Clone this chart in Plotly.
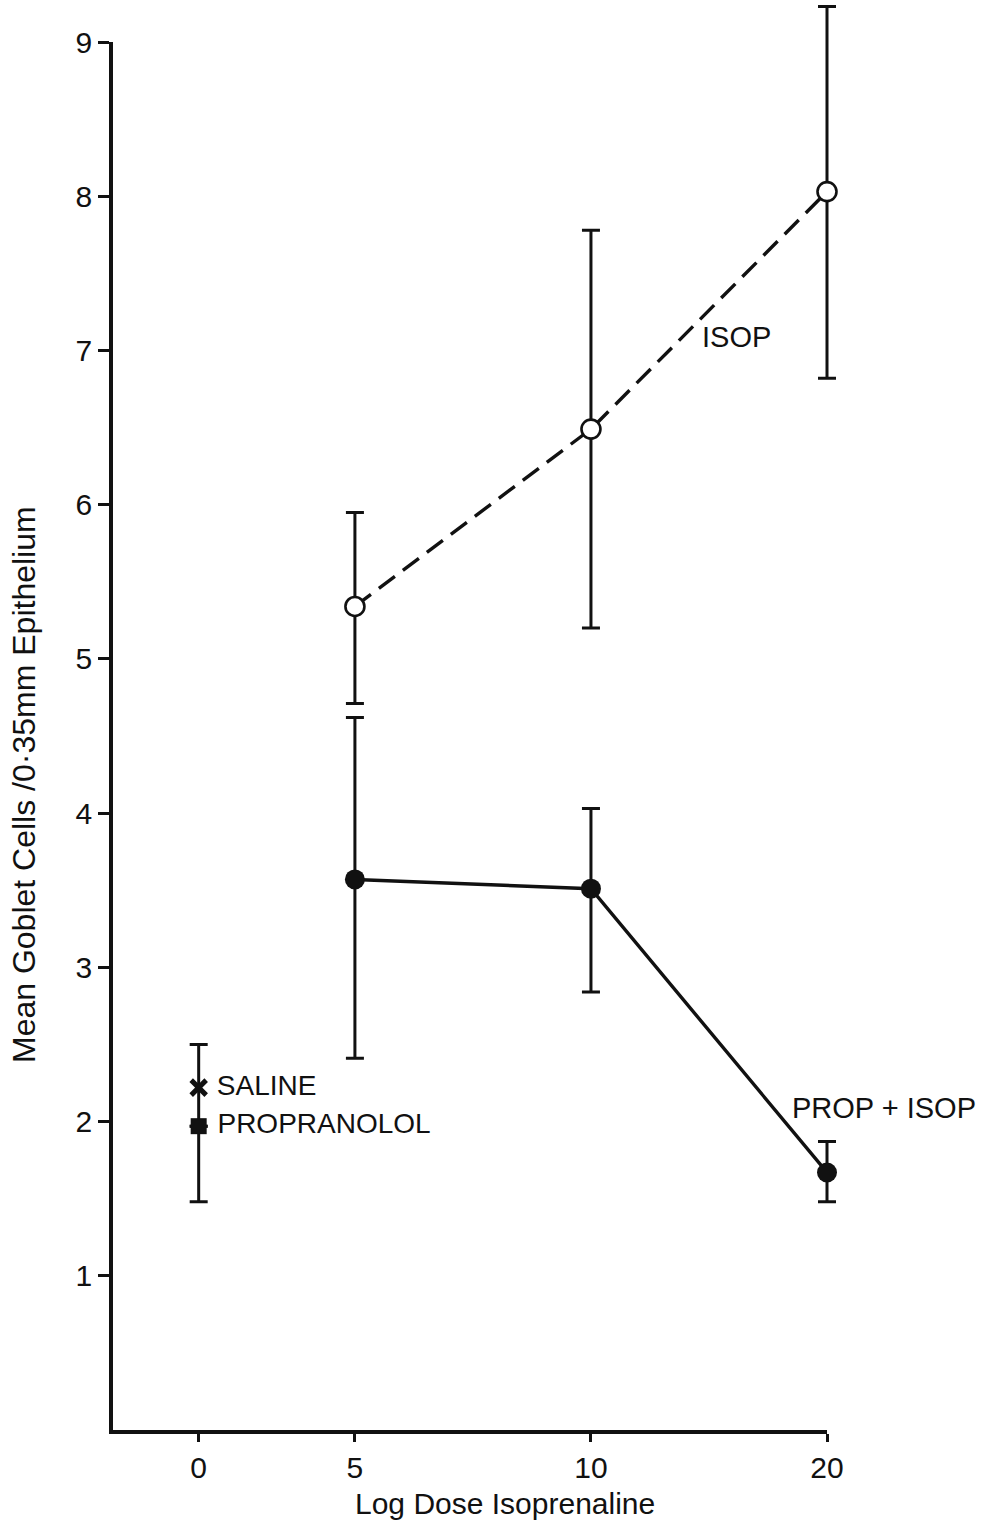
import numpy as np
import plotly.graph_objects as go

# Dose levels (µg) and their positions on the log-dose axis
dose_labels = ["0", "5", "10", "20"]
dose_values = [5, 10, 20]
zero_pos = 1.66  # where the control (0) group is drawn on the axis

# Isoprenaline alone (mean, lower and upper bound of error bar)
isop_mean = [5.34, 6.49, 8.03]
isop_low = [4.71, 5.20, 6.82]
isop_high = [5.95, 7.78, 9.23]

# Propranolol + isoprenaline
prop_isop_mean = [3.57, 3.51, 1.67]
prop_isop_low = [2.41, 2.84, 1.48]
prop_isop_high = [4.62, 4.03, 1.87]

# Controls at dose 0
saline_mean = 2.22
saline_high = 2.50
propranolol_mean = 1.97
propranolol_low = 1.48

x_dose = list(np.log2(dose_values))
tick_pos = [zero_pos] + x_dose

FONT = "Liberation Sans, Arial, Helvetica, sans-serif"
INK = "#111111"

# Frame geometry (pixels): visible axes box, plus a larger invisible
# data box so that error bars past the axis ends are not clipped.
W, H = 985, 1524
L, B = 113, 94
VIS_W, VIS_H = 714, 1388
DATA_W, DATA_H = 772, 1430
X_MIN, X_MAX = 1.297, float(np.log2(20))
Y_MIN, Y_MAX = 0.0, 9.0
px_x = VIS_W / (X_MAX - X_MIN)
px_y = VIS_H / (Y_MAX - Y_MIN)
x2_range = [X_MIN, X_MIN + DATA_W / px_x]
y2_range = [Y_MIN, Y_MIN + DATA_H / px_y]

fig = go.Figure()

# Empty trace so the framed axes (x, y) get drawn
fig.add_trace(go.Scatter(x=[], y=[], xaxis="x", yaxis="y",
                         showlegend=False, hoverinfo="skip"))

err_common = dict(type="data", symmetric=False, color=INK, thickness=3, width=9)

fig.add_trace(go.Scatter(
    x=x_dose, y=isop_mean, mode="lines+markers", xaxis="x2", yaxis="y2",
    line=dict(color=INK, width=3.4, dash="20px,10px"),
    marker=dict(symbol="circle", size=19, color="white",
                line=dict(color=INK, width=2.6)),
    error_y=dict(array=[h - m for h, m in zip(isop_high, isop_mean)],
                 arrayminus=[m - l for m, l in zip(isop_mean, isop_low)],
                 **err_common),
    showlegend=False,
))

fig.add_trace(go.Scatter(
    x=x_dose, y=prop_isop_mean, mode="lines+markers", xaxis="x2", yaxis="y2",
    line=dict(color=INK, width=3.4),
    marker=dict(symbol="circle", size=20, color=INK),
    error_y=dict(array=[h - m for h, m in zip(prop_isop_high, prop_isop_mean)],
                 arrayminus=[m - l for m, l in zip(prop_isop_mean, prop_isop_low)],
                 **err_common),
    showlegend=False,
))

# Saline control: error bar up to its upper bound, stem down to the propranolol point
fig.add_trace(go.Scatter(
    x=[zero_pos], y=[saline_mean], mode="markers+text", xaxis="x2", yaxis="y2",
    marker=dict(symbol="x-thin", size=15, color=INK,
                line=dict(color=INK, width=5)),
    text=[" SALINE"], textposition="middle right",
    textfont=dict(family=FONT, size=28, color=INK),
    error_y=dict(array=[saline_high - saline_mean],
                 arrayminus=[saline_mean - propranolol_mean], **err_common),
    showlegend=False,
))

fig.add_trace(go.Scatter(
    x=[zero_pos], y=[propranolol_mean], mode="markers+text", xaxis="x2", yaxis="y2",
    marker=dict(symbol="square", size=16, color=INK),
    text=[" PROPRANOLOL"], textposition="middle right",
    textfont=dict(family=FONT, size=28, color=INK),
    error_y=dict(array=[0], arrayminus=[propranolol_mean - propranolol_low],
                 **err_common),
    showlegend=False,
))

# Series labels
fig.add_annotation(x=3.784, y=7.09, text="ISOP", showarrow=False, xanchor="left",
                   font=dict(family=FONT, size=29, color=INK))
fig.add_annotation(x=4.165, y=2.09, text="PROP + ISOP", showarrow=False, xanchor="left",
                   font=dict(family=FONT, size=29, color=INK))

# Axis titles
fig.add_annotation(xref="paper", yref="paper", x=(505 - L) / DATA_W, y=-73 / DATA_H,
                   text="Log Dose Isoprenaline", showarrow=False,
                   xanchor="center", yanchor="middle",
                   font=dict(family=FONT, size=30, color=INK))
fig.add_annotation(xref="paper", yref="paper", x=(24 - L) / DATA_W,
                   y=(DATA_H - (785 - (H - B - DATA_H))) / DATA_H,
                   text="Mean Goblet Cells\u00a0/0·35mm Epithelium", showarrow=False,
                   xanchor="center", yanchor="middle",
                   textangle=-90, font=dict(family=FONT, size=32, color=INK))

axis_style = dict(showline=True, linecolor=INK, linewidth=3.5,
                  ticks="outside", tickwidth=3, tickcolor=INK,
                  showgrid=False, zeroline=False, automargin=False,
                  tickfont=dict(family=FONT, size=30, color=INK))

fig.update_layout(
    width=W, height=H,
    margin=dict(l=L, r=W - L - DATA_W, t=H - B - DATA_H, b=B, autoexpand=False),
    paper_bgcolor="white", plot_bgcolor="rgba(0,0,0,0)",
    xaxis=dict(domain=[0, VIS_W / DATA_W], anchor="y", range=[X_MIN, X_MAX],
               tickvals=tick_pos, ticktext=dose_labels, ticklen=8, **axis_style),
    yaxis=dict(domain=[0, VIS_H / DATA_H], anchor="x", range=[Y_MIN, Y_MAX],
               tickvals=[1, 2, 3, 4, 5, 6, 7, 8, 9], ticklen=11, **axis_style),
    xaxis2=dict(domain=[0, 1], anchor="y2", range=x2_range, visible=False,
                automargin=False),
    yaxis2=dict(domain=[0, 1], anchor="x2", range=y2_range, visible=False,
                automargin=False),
)

fig.write_html("out.html")
